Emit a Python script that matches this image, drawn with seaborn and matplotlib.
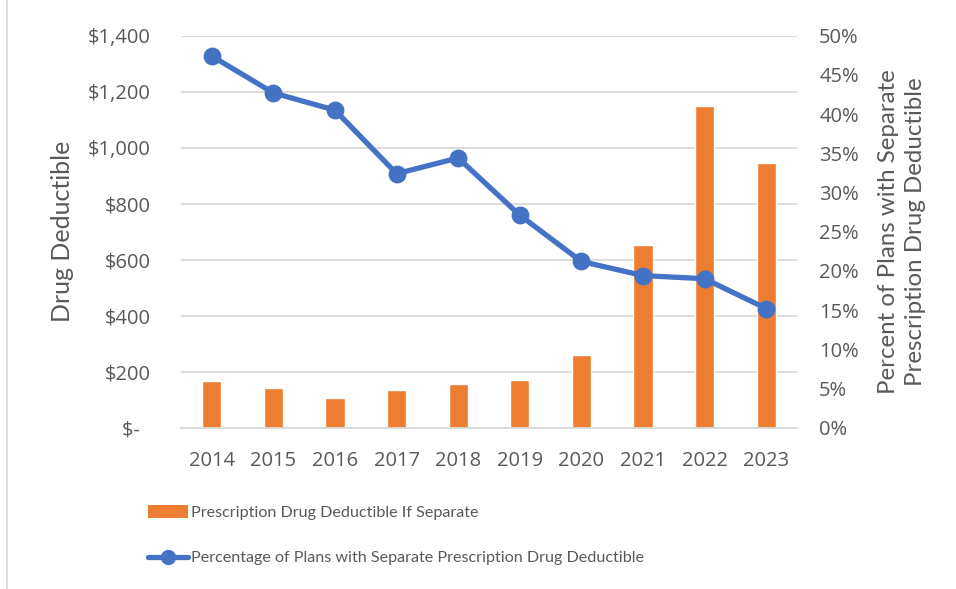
import matplotlib
matplotlib.use("Agg")
import matplotlib.pyplot as plt
from matplotlib.lines import Line2D
from matplotlib.patches import Patch
from matplotlib.ticker import FuncFormatter, MultipleLocator
import seaborn as sns
import pandas as pd

# Plan years
years = ["2014", "2015", "2016", "2017", "2018", "2019", "2020", "2021", "2022", "2023"]
# Average separate prescription drug deductible (dollars)
drug_deductible = [167, 141, 106, 134, 157, 170, 258, 652, 1149, 945]
# Share of plans with a separate prescription drug deductible (%)
pct_separate = [47.4, 42.7, 40.5, 32.4, 34.4, 27.1, 21.2, 19.4, 19.0, 15.2]

bar_label = "Prescription Drug Deductible If Separate"
line_label = "Percentage of Plans with Separate Prescription Drug Deductible"

ORANGE = "#ED7D31"
BLUE = "#4472C4"
TEXT = "#595959"
GRID = "#D9D9D9"

sns.set_theme(style="white")
plt.rcParams["font.family"] = ["Open Sans", "DejaVu Sans"]
plt.rcParams["text.color"] = TEXT
plt.rcParams["axes.labelcolor"] = TEXT
plt.rcParams["xtick.color"] = TEXT
plt.rcParams["ytick.color"] = TEXT
LABEL_FONT = ["Lato", "Open Sans", "DejaVu Sans"]

df = pd.DataFrame({"year": years, "deductible": drug_deductible, "pct": pct_separate})

fig = plt.figure(figsize=(9.56, 5.89), dpi=100)
ax = fig.add_axes([0.1893, 0.2739, 0.6444, 0.6655])

sns.barplot(data=df, x="year", y="deductible", color=ORANGE, saturation=1,
            width=0.31, ax=ax, zorder=2)
ax.set_ylim(0, 1400)
ax.yaxis.set_major_locator(MultipleLocator(200))
ax.yaxis.set_major_formatter(FuncFormatter(
    lambda v, p: "$-  " if v == 0 else f"${v:,.0f}"))
ax.grid(axis="y", color=GRID, linewidth=1.3, zorder=0)
ax.set_axisbelow(True)
ax.set_xlabel("")
ax.set_ylabel("Drug Deductible", fontsize=18, labelpad=10, family=LABEL_FONT)
ax.tick_params(axis="y", length=0, pad=22, labelsize=14.5)
ax.tick_params(axis="x", length=0, pad=17, labelsize=14.5)
for s in ax.spines.values():
    s.set_visible(False)
ax.spines["bottom"].set_visible(True)
ax.spines["bottom"].set_color(GRID)
ax.spines["bottom"].set_linewidth(1.3)

ax2 = ax.twinx()
sns.pointplot(data=df, x="year", y="pct", color=BLUE, markers="o",
              linewidth=3.8, markersize=10, ax=ax2, zorder=3)
ax2.set_ylim(0, 50)
ax2.set_xlim(-0.5, len(years) - 0.5)
ax2.yaxis.set_major_locator(MultipleLocator(5))
ax2.yaxis.set_major_formatter(FuncFormatter(lambda v, p: f"{v:.0f}%"))
ax2.set_ylabel("Percent of Plans with Separate\nPrescription Drug Deductible",
               fontsize=17.3, labelpad=14, linespacing=1.35, family=LABEL_FONT)
ax2.tick_params(axis="y", length=0, pad=16, labelsize=14.5)
for s in ax2.spines.values():
    s.set_visible(False)
ax2.set_xlabel("")

handles = [
    Patch(facecolor=ORANGE, edgecolor="none", label=bar_label),
    Line2D([0], [0], color=BLUE, linewidth=3.8, marker="o", markersize=10,
           label=line_label),
]
fig.legend(handles=handles, loc="upper left", bbox_to_anchor=(0.155, 0.142),
           frameon=False, prop={"family": LABEL_FONT, "size": 11.6},
           handlelength=2.45, handleheight=0.8, handletextpad=0.2,
           labelspacing=1.9, borderaxespad=0, borderpad=0)

# chart-area frame edge on the left
fig.add_artist(Line2D([0.0075, 0.0075], [0, 1], transform=fig.transFigure,
                      color=GRID, linewidth=1.3))

fig.savefig("out.png", dpi=100)
